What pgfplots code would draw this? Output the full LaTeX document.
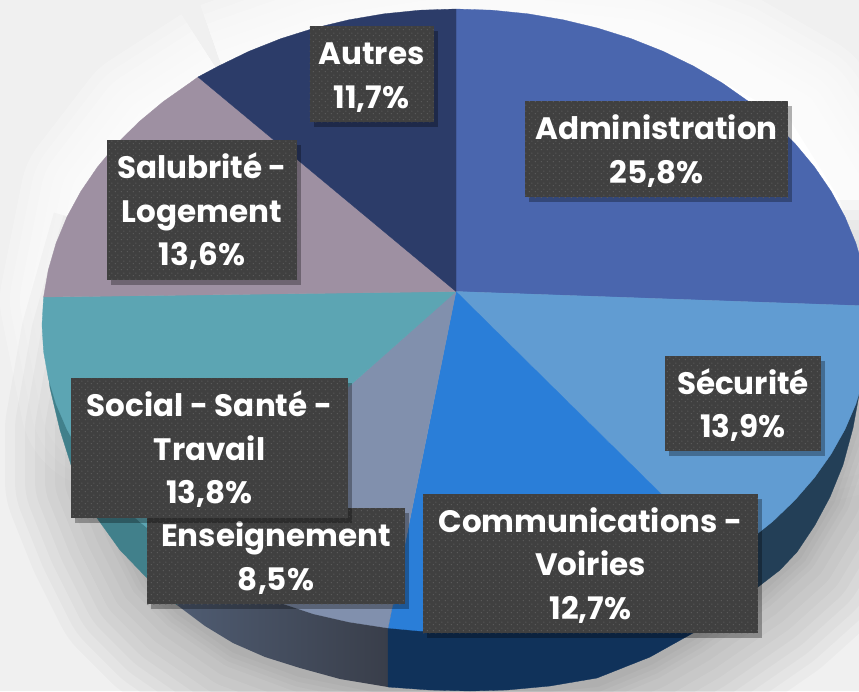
\documentclass[border=0pt]{standalone}
\usepackage{fontspec}
\setmainfont{Poppins}
\usepackage{pgfplots}
\usepackage{pgfplotstable}
\usetikzlibrary{patterns,shadows}
\pgfplotsset{compat=1.18}

\definecolor{cAdmin}{HTML}{4A66AE}
\definecolor{cSecu}{HTML}{619CD2}
\definecolor{cComm}{HTML}{2A7ED8}
\definecolor{cEns}{HTML}{8190AD}
\definecolor{cSocial}{HTML}{5CA5B3}
\definecolor{cSalu}{HTML}{9E90A2}
\definecolor{cAutres}{HTML}{2C3C69}
\definecolor{sSocial}{HTML}{41808B}
\definecolor{sEnsA}{HTML}{4F5C72}
\definecolor{sEnsB}{HTML}{393E4A}
\definecolor{sComm}{HTML}{10325A}
\definecolor{sSecu}{HTML}{233F57}
\definecolor{lblbox}{HTML}{404040}
\definecolor{lbldot}{HTML}{5C5C5C}

\pgfdeclarepatternformonly{lbldots}{\pgfqpoint{0pt}{0pt}}{\pgfqpoint{6pt}{6pt}}{\pgfqpoint{6pt}{6pt}}{%
  \pgfpathcircle{\pgfqpoint{1.5pt}{1.5pt}}{0.8pt}
  \pgfpathcircle{\pgfqpoint{4.5pt}{4.5pt}}{0.8pt}
  \pgfusepath{fill}}

% white glow on the pale page
\pgfplotstableread{
x y
230 90
330 55
430 40
540 40
640 50
720 80
790 120
840 200
870 300
870 400
430 500
110 400
90 300
110 200
160 135
230 90
}\glowtab

% soft shadow under the pie: strokes only, this outline stays behind the pie
\pgfplotstableread{
x y
150 240
120 345
105 430
105 480
125 530
150 580
180 610
235 648
300 672
388 690
470 695
597 682
650 660
693 635
758 590
797 555
830 500
853 432
870 380
880 300
400 300
150 240
}\shadowtab

\tikzset{
  lbl/.style={
    fill=lblbox, text=white, inner sep=0pt, align=center,
    font=\fontsize{31}{43.5}\selectfont\bfseries,
    postaction={pattern=lbldots, pattern color=lbldot},
    drop shadow={shadow xshift=4pt, shadow yshift=-5pt, opacity=0.3, fill=black}
  }
}
\newcommand{\slice}[1]{\addplot[fill=#1, draw=#1, line width=0.3pt, mark=none]}
\newcommand{\glowlayer}[1]{\addplot[draw=white, draw opacity=0.22, line width=#1, line join=round, mark=none] table {\glowtab};}
\newcommand{\shadowlayer}[1]{\addplot[draw=black, draw opacity=0.022, line width=#1, line join=round, mark=none] table {\shadowtab};}
% one label line: fixed height and depth, so lowering it does not move the others
\newcommand{\lbline}[1]{\raisebox{-3pt}[31pt][12.5pt]{#1}}

\begin{document}
\begin{tikzpicture}
  \path[use as bounding box] (0,0) rectangle (859pt,691pt);
  \begin{axis}[
    at={(0,0)}, anchor=south west,
    scale only axis, width=859pt, height=691pt,
    xmin=0, xmax=859, ymin=0, ymax=691,
    y dir=reverse,
    hide axis
  ]
    \addplot[draw=none, fill=black!6, mark=none] coordinates {(0,0) (859,0) (859,691) (0,691) (0,0)};

    \glowlayer{180pt}
    \glowlayer{160pt}
    \glowlayer{140pt}
    \glowlayer{120pt}
    \glowlayer{100pt}
    \glowlayer{80pt}
    \glowlayer{60pt}
    \glowlayer{40pt}
    \glowlayer{20pt}
    \glowlayer{5pt}
    \addplot[draw=none, fill=white, mark=none] table {\glowtab};

    \shadowlayer{200pt}
    \shadowlayer{180pt}
    \shadowlayer{160pt}
    \shadowlayer{140pt}
    \shadowlayer{120pt}
    \shadowlayer{100pt}
    \shadowlayer{80pt}
    \shadowlayer{60pt}
    \shadowlayer{40pt}
    \shadowlayer{30pt}
    \shadowlayer{20pt}
    \shadowlayer{10pt}

    % side of the pie
    \slice{sSocial} coordinates {(48,372) (50,388) (60,430) (72,468) (84,495) (97,518) (120,550) (147,578) (177,605) (300,500) (48,372)};
    \addplot[left color=sEnsA, right color=sEnsB, draw=none, mark=none] coordinates {(177,605) (205,626) (233,643) (265,657) (300,668) (340,679) (388,687) (388,590) (177,540) (177,605)};
    \slice{sComm} coordinates {(388,687) (430,690) (470,691) (507,690) (550,686) (597,678) (650,657) (693,633) (700,628) (700,500) (388,590) (388,687)};
    \slice{sSecu} coordinates {(700,628) (725,612) (758,587) (780,570) (797,552) (815,525) (830,497) (843,465) (853,428) (859,395) (870,360) (700,400) (700,628)};

    % top face, clockwise from Administration
    \slice{cAdmin} coordinates {(456,291.5) (869,306) (868.4,297.5) (863.7,270.1) (855.9,243.2) (845,216.9) (831.2,191.5) (814.5,167) (795.1,143.7) (773.1,121.9) (748.7,101.6) (722.1,82.9) (693.5,66.1) (663,51.3) (631,38.6) (597.6,28.1) (563.1,19.8) (527.9,13.8) (492.1,10.2) (456,9) (456,291.5)};
    \slice{cSecu} coordinates {(456,291.5) (724,556) (748.7,540.7) (773.1,521.1) (795.1,499.9) (814.5,477.5) (831.2,453.9) (845,429.3) (855.9,403.9) (863.7,378) (868.4,351.6) (870,325) (869,306) (456,291.5)};
    \slice{cComm} coordinates {(456,291.5) (388,628) (420,631) (456,632) (492,630) (528,627) (563,621) (598,612) (631,601.4) (663,589.1) (693.5,574.8) (724,556) (456,291.5)};
    \slice{cEns} coordinates {(456,291.5) (170,545) (189.9,558.6) (218.5,574.8) (249,589.1) (281,603) (314,614) (349,622) (388,628) (456,291.5)};
    \slice{cSocial} coordinates {(456,291.5) (43.6,297) (42,325) (43.6,351.6) (48.3,378) (56.1,403.9) (67,429.3) (80.8,453.9) (97.5,477.5) (116.9,499.9) (138.9,521.1) (163.3,540.7) (170,545) (456,291.5)};
    \slice{cSalu} coordinates {(456,291.5) (198,77) (189.9,82.9) (163.3,101.6) (138.9,121.9) (116.9,143.7) (97.5,167) (80.8,191.5) (67,216.9) (56.1,243.2) (48.3,270.1) (43.6,297) (456,291.5)};
    \slice{cAutres} coordinates {(456,291.5) (456,9) (419.9,10.2) (384.1,13.8) (348.9,19.8) (314.4,28.1) (281,38.6) (249,51.3) (218.5,66.1) (198,77) (456,291.5)};

    % data labels (px boxes from the reference)
    \node[lbl, minimum width=124pt, minimum height=96pt] at (axis cs:371.5,74) {\lbline{Autres}\\\lbline{11,7\%}};
    \node[lbl, minimum width=263pt, minimum height=96pt] at (axis cs:656.5,149) {\lbline{Administration}\\\lbline{25,8\%}};
    \node[lbl, minimum width=190pt, minimum height=140pt] at (axis cs:202,210) {\lbline{Salubrité -}\\\lbline{Logement}\\\lbline{13,6\%}};
    \node[lbl, minimum width=156pt, minimum height=95pt] at (axis cs:743,403.5) {\lbline{Sécurité}\\\lbline{13,9\%}};
    \node[lbl, minimum width=258pt, minimum height=96pt] at (axis cs:276,556) {\lbline{Enseignement}\\\lbline{8,5\%}};
    \node[lbl, minimum width=277pt, minimum height=140pt] at (axis cs:209.5,448) {\lbline{Social - Santé -}\\\lbline{Travail}\\\lbline{13,8\%}};
    \node[lbl, minimum width=335pt, minimum height=139pt] at (axis cs:590.5,563.5) {\lbline{Communications -}\\\lbline{Voiries}\\\lbline{12,7\%}};
  \end{axis}
\end{tikzpicture}
\end{document}
